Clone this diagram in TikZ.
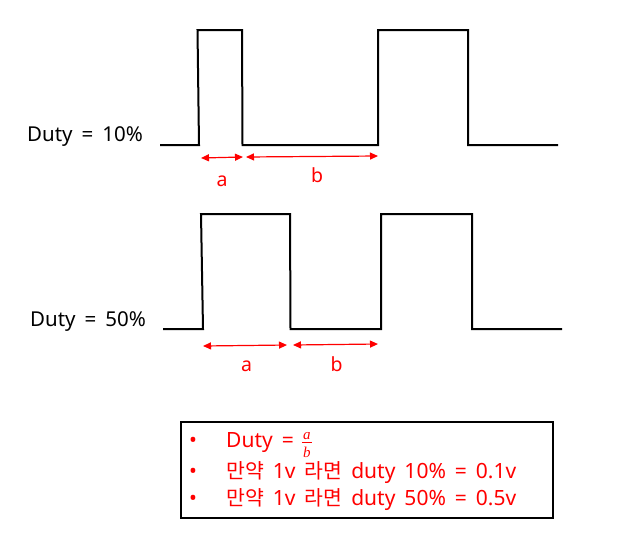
\documentclass[tikz,border=0pt]{standalone}
\usepackage{fontspec}
\setmainfont{Noto Sans}
\newfontfamily\krfont{Noto Sans CJK KR}
\newfontfamily\fracfont{Liberation Serif}
\newcommand\ko[1]{{\krfont\fontsize{20.5}{23}\selectfont #1}}
\newcommand\widesp[1]{\spaceskip=#1\relax}
\newcommand\fracab{\raisebox{-9.5pt}{\fracfont\itshape\fontsize{15}{15}\selectfont
  \vbox{\hbox to 10pt{\hss a\hss}\kern2.5pt\hrule height 0.9pt\kern4pt\hbox to 10pt{\hss b\hss}}}}
\usetikzlibrary{arrows.meta}
\definecolor{wred}{RGB}{255,0,0}
\tikzset{
  wave/.style={line width=2pt, black, line join=miter},
  span/.style={wred, line width=1.2pt, {Triangle[length=8pt,width=7pt]}-{Triangle[length=8pt,width=7pt]}},
  spanlbl/.style={wred, font=\fontsize{19.5}{21}\selectfont, inner sep=0pt, anchor=base},
  dutylbl/.style={black, font=\fontsize{20.5}{23}\selectfont, inner sep=0pt, anchor=base west},
  infobox/.style={draw=black, line width=2pt, inner sep=0pt},
  infoline/.style={wred, font=\fontsize{21}{24}\selectfont, inner sep=0pt, anchor=base west},
}
\begin{document}
\begin{tikzpicture}[x=1pt,y=-1pt]
\useasboundingbox (0,0) rectangle (623,536);
% top waveform
\coordinate (t0) at (160,145);
\coordinate (t1) at (199,145);
\coordinate (t2) at (197.5,30);
\coordinate (t3) at (242,30);
\coordinate (t4) at (242.5,145);
\coordinate (t5) at (378,145);
\coordinate (t6) at (378,30);
\coordinate (t7) at (468,30);
\coordinate (t8) at (468,145);
\coordinate (t9) at (558,145);
\draw[wave] (t0) -- (t1) -- (t2) -- (t3) -- (t4) -- (t5) -- (t6) -- (t7) -- (t8) -- (t9);
\node[dutylbl] (d10) at (27,141.5) {\widesp{9pt}Duty = 10\%};
\coordinate (ta1) at (201,158);
\coordinate (ta2) at (243,157);
\coordinate (tb1) at (246,157);
\coordinate (tb2) at (378,156);
\draw[span] (ta1) -- (ta2);
\draw[span] (tb1) -- (tb2);
\node[spanlbl] (la) at (222,186) {a};
\node[spanlbl] (lb) at (317,182) {b};
% bottom waveform
\coordinate (u0) at (163,329);
\coordinate (u1) at (203,329);
\coordinate (u2) at (201,214);
\coordinate (u3) at (290,214);
\coordinate (u4) at (290.5,329);
\coordinate (u5) at (381,329);
\coordinate (u6) at (381,214);
\coordinate (u7) at (472,214);
\coordinate (u8) at (472,329);
\coordinate (u9) at (562,329);
\draw[wave] (u0) -- (u1) -- (u2) -- (u3) -- (u4) -- (u5) -- (u6) -- (u7) -- (u8) -- (u9);
\node[dutylbl] (d50) at (30,326) {\widesp{9pt}Duty = 50\%};
\coordinate (ua1) at (203,346);
\coordinate (ua2) at (287,345);
\coordinate (ub1) at (293,345);
\coordinate (ub2) at (378,344);
\draw[span] (ua1) -- (ua2);
\draw[span] (ub1) -- (ub2);
\node[spanlbl] (lc) at (246.5,371) {a};
\node[spanlbl] (ld) at (336.5,371) {b};
% info box
\node[infobox, minimum width=372pt, minimum height=96pt, anchor=north west] (box) at (180,421) {};
\node[infoline] (b1) at (189,447.5) {\textbullet};
\node[infoline] (b2) at (189,478.5) {\textbullet};
\node[infoline] (b3) at (189,505) {\textbullet};
\node[infoline] (l1) at (226,447.5) {Duty\hspace{9pt}=\hspace{8pt}\fracab};
\node[infoline] (l2) at (226,478.5) {\widesp{9pt}\ko{만약} 1v \ko{라면} duty 10\% = 0.1v};
\node[infoline] (l3) at (226,505) {\widesp{9pt}\ko{만약} 1v \ko{라면} duty 50\% = 0.5v};
\end{tikzpicture}
\end{document}
